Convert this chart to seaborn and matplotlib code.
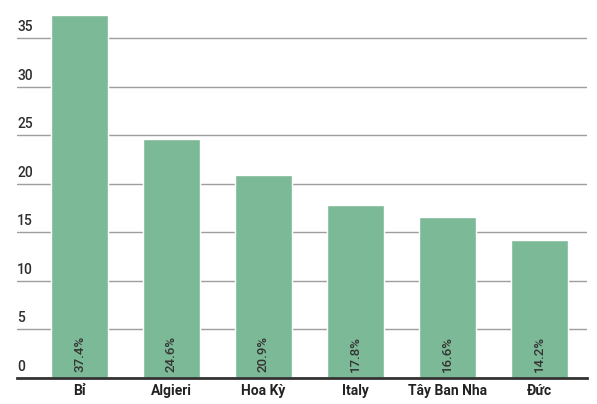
import matplotlib
matplotlib.use("Agg")
import matplotlib.pyplot as plt
import matplotlib.transforms as mtransforms
import seaborn as sns
import pandas as pd

# Daten
countries = ["Bỉ", "Algieri", "Hoa Kỳ", "Italy", "Tây Ban Nha", "Đức"]
values = [37.4, 24.6, 20.9, 17.8, 16.6, 14.2]
value_labels = ["37.4%", "24.6%", "20.9%", "17.8%", "16.6%", "14.2%"]
y_ticks = [0, 5, 10, 15, 20, 25, 30, 35]

sns.set_style("white")
plt.rcParams["font.family"] = ["Roboto", "DejaVu Sans"]

df = pd.DataFrame({"country": countries, "value": values})

fig = plt.figure(figsize=(5.97, 4.04), dpi=100)
ax = fig.add_axes([17 / 597, 26 / 404, 570 / 597, 368 / 404])

sns.barplot(data=df, x="country", y="value", color="#7cb996", saturation=1,
            width=0.62, ax=ax, zorder=3)

# Achsen
ax.set_xlim(-0.679, 5.516)
ax.set_ylim(0, 37.92)
ax.set_yticks(y_ticks)
ax.set_yticklabels([str(t) for t in y_ticks])
ax.yaxis.grid(True, color="#9e9e9e", linewidth=1)
ax.set_axisbelow(True)
for s in ["top", "right", "left"]:
    ax.spines[s].set_visible(False)
ax.spines["bottom"].set_color("#333333")
ax.spines["bottom"].set_linewidth(2)
ax.spines["bottom"].set_zorder(4)

ax.tick_params(axis="y", length=0, pad=0, labelsize=10, labelcolor="#2e2e2e")
ax.tick_params(axis="x", length=0, pad=4, labelsize=10, labelcolor="#222222")
offset = mtransforms.ScaledTranslation(0, 4 / 100, fig.dpi_scale_trans)
for label in ax.get_yticklabels():
    label.set_horizontalalignment("left")
    label.set_verticalalignment("bottom")
    label.set_fontweight("medium")
    label.set_transform(label.get_transform() + offset)
for label in ax.get_xticklabels():
    label.set_fontweight("bold")

ax.set_xlabel("")
ax.set_ylabel("")

# Werte in den Balken
for i, txt in enumerate(value_labels):
    ax.annotate(txt, xy=(i, 0), xytext=(0, 4), textcoords="offset points",
                rotation=90, ha="center", va="bottom", fontsize=9.5,
                fontweight="medium", color="#333333", zorder=5)

fig.savefig("out.png", dpi=100)
